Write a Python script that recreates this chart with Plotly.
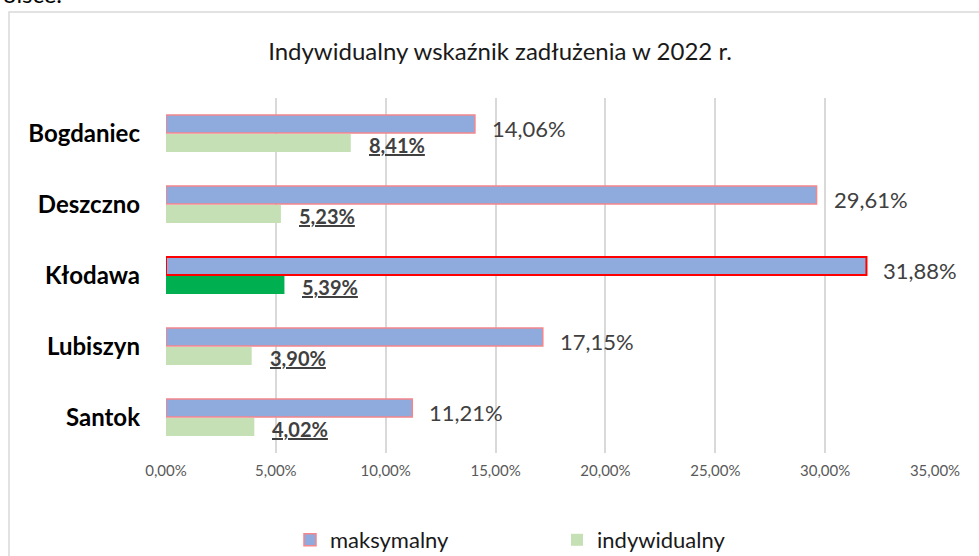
import plotly.graph_objects as go

categories = ["Bogdaniec", "Deszczno", "Kłodawa", "Lubiszyn", "Santok"]
maksymalny = [14.06, 29.61, 31.88, 17.15, 11.21]
indywidualny = [8.41, 5.23, 5.39, 3.90, 4.02]
tick_vals = [0, 5, 10, 15, 20, 25, 30, 35]
tick_text = ["0,00%", "5,00%", "10,00%", "15,00%", "20,00%", "25,00%", "30,00%", "35,00%"]
highlight = "Kłodawa"

def fmt(v):
    return f"{v:.2f}".replace(".", ",") + "%"

blue_line_colors = ["#FF0000" if c == highlight else "#F4868C" for c in categories]
blue_line_widths = [2 if c == highlight else 1.5 for c in categories]
green_colors = ["#00B050" if c == highlight else "#C5E0B4" for c in categories]

FONT = "Lato"

fig = go.Figure()
fig.add_trace(go.Bar(
    y=categories, x=maksymalny, orientation="h", name="maksymalny",
    marker=dict(color="#8FAADC", line=dict(color=blue_line_colors, width=blue_line_widths)),
))
fig.add_trace(go.Bar(
    y=categories, x=indywidualny, orientation="h", name="indywidualny",
    marker=dict(color=green_colors, line=dict(width=0)),
))

annotations = []
for c, v in zip(categories, maksymalny):
    annotations.append(dict(x=v, y=c, xref="x", yref="y", text=fmt(v), showarrow=False,
                            xanchor="left", yanchor="middle", xshift=15, yshift=5,
                            font=dict(family=FONT, size=22, color="#404040")))
for c, v in zip(categories, indywidualny):
    annotations.append(dict(x=v, y=c, xref="x", yref="y", text=f"<b><u>{fmt(v)}</u></b>", showarrow=False,
                            xanchor="left", yanchor="middle", xshift=16, yshift=-11,
                            font=dict(family=FONT, size=20, color="#404040")))
# cropped text from surrounding document
annotations.append(dict(x=(64 - 166) / 769, y=(453 - 10) / 355, xref="paper", yref="paper",
                        text="Polsce.", showarrow=False, xanchor="right", yanchor="bottom",
                        font=dict(family=FONT, size=24, color="#000000")))

fig.update_layout(
    width=979, height=556,
    margin=dict(l=166, r=44, t=98, b=103, autoexpand=False),
    paper_bgcolor="white", plot_bgcolor="white",
    barmode="group", bargap=0.46, bargroupgap=0.06,
    title=dict(text="Indywidualny wskaźnik zadłużenia w 2022 r.", x=(500 - 166) / 769, xref="paper",
               xanchor="center", y=1 - 52 / 556, yanchor="middle",
               font=dict(family=FONT, size=24, color="#1a1a1a")),
    showlegend=True,
    legend=dict(orientation="h", x=(557 - 166) / 769, xanchor="center", y=-(540 - 453) / 355,
                yanchor="middle", font=dict(family=FONT, size=22, color="#1a1a1a"),
                entrywidth=222, itemwidth=30, traceorder="normal", bgcolor="rgba(0,0,0,0)"),
    annotations=annotations,
    shapes=[dict(type="rect", xref="paper", yref="paper",
                 x0=(9 - 166) / 769, x1=(995 - 166) / 769,
                 y0=(453 - 570) / 355, y1=(453 - 12) / 355,
                 line=dict(color="#D9D9D9", width=1.5), layer="below")],
)
fig.update_xaxes(range=[0, 35], tickmode="array", tickvals=tick_vals, ticktext=tick_text,
                 showgrid=True, gridcolor="#D9D9D9", gridwidth=1.5, zeroline=False,
                 showline=False, ticks="", automargin=False, ticklabelstandoff=7,
                 tickfont=dict(family=FONT, size=15, color="#595959"))
fig.update_yaxes(autorange="reversed", showgrid=False, zeroline=False, showline=False, ticks="",
                 ticklabelstandoff=25, automargin=False,
                 tickfont=dict(family=FONT, size=24, color="#000000", weight="bold"))

fig.write_html("out.html", config={"displayModeBar": False},
               post_script="document.body.style.margin='0';document.body.style.overflow='hidden';")
